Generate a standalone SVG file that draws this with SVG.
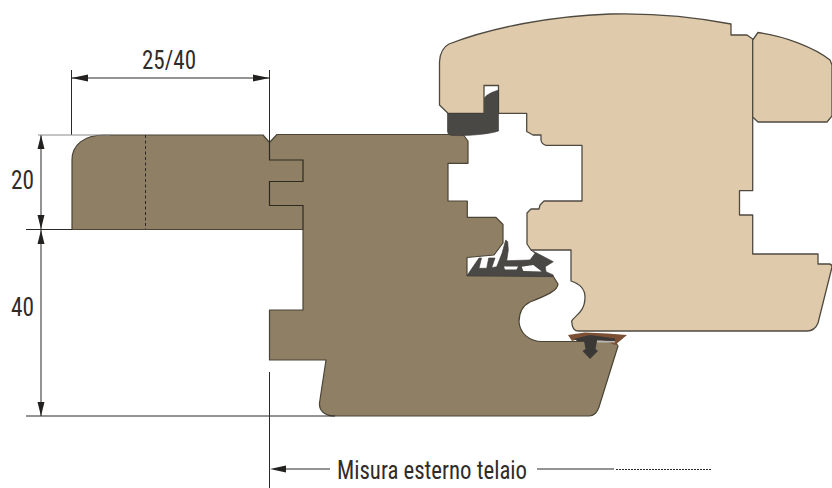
<svg xmlns="http://www.w3.org/2000/svg" width="832" height="488" viewBox="0 0 832 488">
<style>
text{font-family:"Liberation Sans Narrow","Roboto Condensed","Liberation Sans",sans-serif;fill:#2f2c2a;font-size:25.500px}
.wood{fill:#8f7f65;stroke:#4a4436;stroke-width:1.2;stroke-linejoin:round}
.sash{fill:#dfcbab;stroke:#4f4a40;stroke-width:1.3;stroke-linejoin:round}
.dark{fill:#4a4845;stroke:#3a3836;stroke-width:.6;stroke-linejoin:round}
.dim{fill:none;stroke:#2b2926;stroke-width:1}
.head{fill:#23211f;stroke:none}
</style>
<rect width="832" height="488" fill="#fff"/>
<g id="frame">
<path class="wood" d="M72 229.500V160C72 145 84 135 104 135H263L269.500 142.500L277 134.500H463L468 141V163.300H448V201H467.300V217.300H496L503 224.500V243L494 255L467 257.500V275L553 276L558 284C558 291 545 296 530 302C522 306 519 314 519 322C520 333 529 341.500 542 341.500H615L618 346L599 407C597 413 594 416 589 416H335C325 416 319 411 319.500 403L326 360H269.500V310H303V229.500Z"/>
<path d="M269.500 142.500V160H303V181.500H269.500V205.500H303V229.500" fill="none" stroke="#2f2a20" stroke-width="1.200"/>
<path d="M145.500 135V229" fill="none" stroke="#2b2926" stroke-width="1" stroke-dasharray="3 2.500"/>
</g>
<g id="sash">
<path class="sash" d="M439.500 105V62C440 53 443 47 449 44C490 28 550 16 610 14C650 13 695 17 731 24V35H747L752.700 39V190.700H739.500V215H752.700V254H818V264H829Q832 264 832 267L818 323C816 328 812 331 807 331H578C574 331 572 328 571.700 321C574 316 585 313 585 297C585 289 580 284 571 281V250H531L527 244V213L531 209H539L540 205L544 201H582V145.300H546Q541.500 144 541 140V135H533L526.700 131.500V113.300H498.500V85.500H484V113.300H448Z"/>
<path id="sash-bead" class="sash" d="M752.700 40L758 32.500C785 36 815 48 830 60L832 65V116L827 122H758L752.700 117Z"/>
</g>
<g id="gasket-top">
<path class="dark" d="M447.500 113.500H484.500V98C487 94 493 92 498.500 90V131C490 134 470 136 452 135.500Q447.500 135 447.500 131Z"/>
</g>
<g id="gasket-mid">
<path class="dark" d="M466.700 276L479 258H481.500L479 268.300H486.700L488.700 258H495L491.700 267.700L496.700 266.700L502 253.300L505.700 240L507.700 241.700L508.300 250L506.700 260.700L530 260L535 253.300L531 250L553.300 261.700L545.300 266.700L546 271.700L553.300 275L552.700 276.700Z"/>
<path d="M504 266.500H518L516.500 269.500H505ZM521.700 266.700L533.300 265L541.700 271.500L523.300 271Z" fill="#fff"/>
</g>
<g id="gasket-bottom">
<path d="M568 335L585 332.500L607 333.500L627 335L615 345L598 338H582L572 341Z" fill="#7b4f33"/>
<rect x="597" y="340.500" width="18" height="2" fill="#b9b7b1"/>
<path d="M574 339L590 335L615 338.500V341L597 340.500L595.500 349L598 351L590 359L582.500 351L585.500 349L584 341L577 341Z" fill="#3a3936"/>
</g>
<g id="connectors">
<path class="dim" d="M71.500 70V135M269.500 70V142M71.500 78H269.500M41 135V416M26 229.500H72M26 416H335M269.500 372V488M286 469H330M537 469H614"/>
<path d="M38 135H110" fill="none" stroke="#8a8a8a" stroke-width="1"/>
<path d="M616 469.500H711" fill="none" stroke="#2b2926" stroke-width="1" stroke-dasharray="2 1"/>
<path class="head" d="M71.500 78L88 74.500V81.500ZM269.500 78L253 74.500V81.500ZM41 135L37.500 149H44.500ZM41 229L37.500 215H44.500ZM41 230L37.500 244H44.500ZM41 416L37.500 402H44.500ZM270 469L286 465.500V472.500Z"/>
</g>
<text x="142" y="69" textLength="54" lengthAdjust="spacingAndGlyphs">25/40</text>
<text x="11" y="189" textLength="23" lengthAdjust="spacingAndGlyphs">20</text>
<text x="11" y="316" textLength="23" lengthAdjust="spacingAndGlyphs">40</text>
<text x="337" y="479" textLength="190" lengthAdjust="spacingAndGlyphs">Misura esterno telaio</text>
</svg>
